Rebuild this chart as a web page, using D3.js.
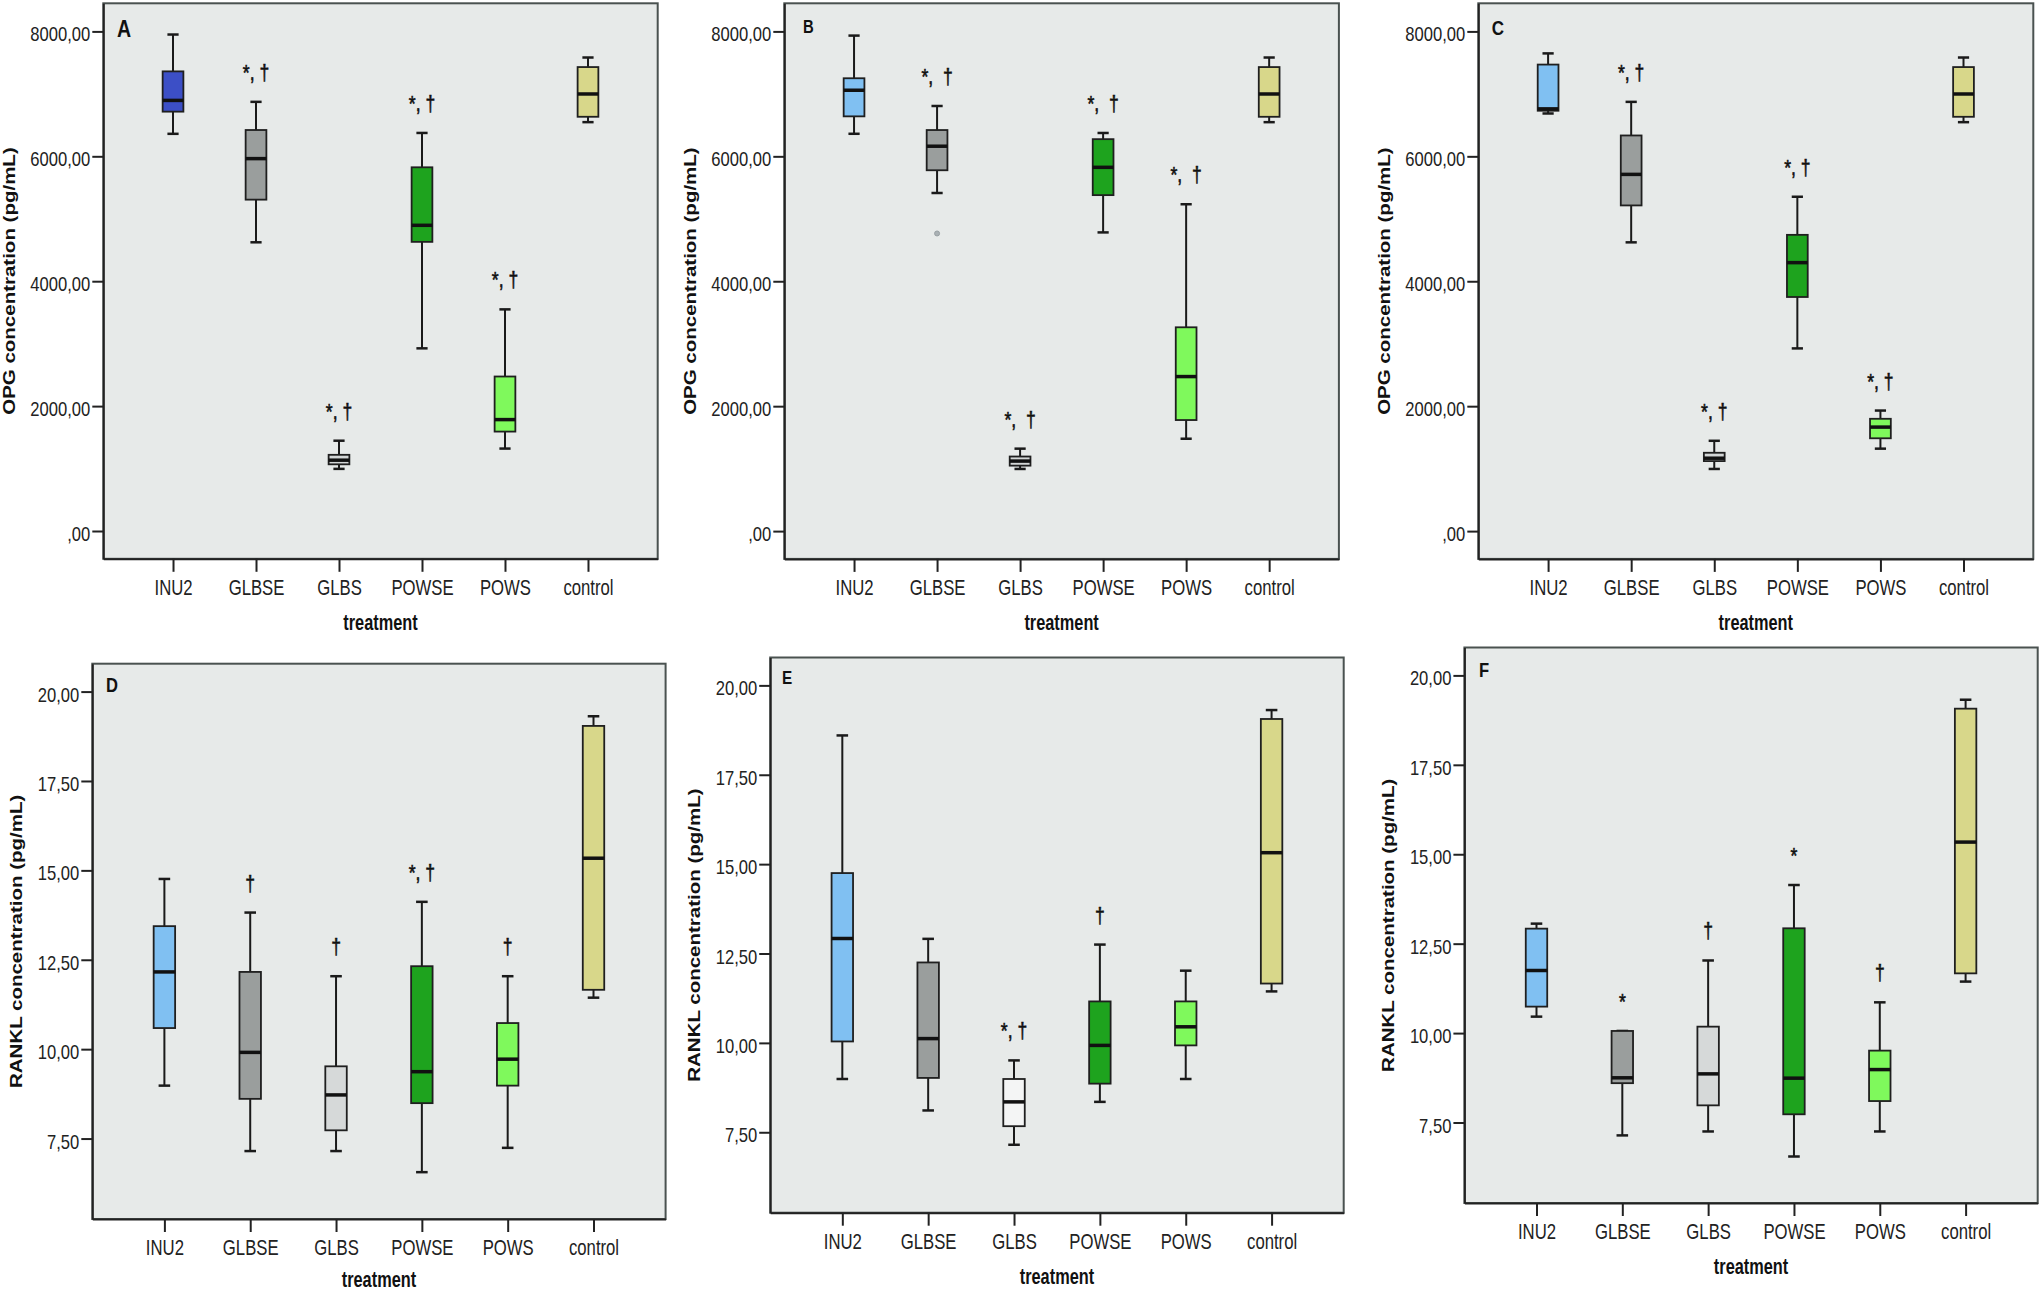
<!DOCTYPE html>
<html>
<head>
<meta charset="utf-8">
<script src="https://cdn.jsdelivr.net/npm/d3@7"></script>
<style>
  body { margin: 0; background: #ffffff; }
  svg { display: block; }
  text { font-family: "Liberation Sans", Arial, Helvetica, sans-serif; -webkit-font-smoothing: antialiased; }
</style>
</head>
<body>
<svg id="chart" width="2042" height="1293"></svg>
<script>
// ---------------- DATA ----------------
const categories = ["INU2", "GLBSE", "GLBS", "POWSE", "POWS", "control"];

const opgTicks = [0, 2000, 4000, 6000, 8000];
const opgTickLabels = [",00", "2000,00", "4000,00", "6000,00", "8000,00"];
const ranklTicks = [7.5, 10, 12.5, 15, 17.5, 20];
const ranklTickLabels = ["7,50", "10,00", "12,50", "15,00", "17,50", "20,00"];

const opgTitle = "OPG concentration (pg/mL)";
const ranklTitle = "RANKL concentration (pg/mL)";
const xTitle = "treatment";

// box statistics per category: [lower whisker, Q1, median, Q3, upper whisker]
const boxesA = [
  [6360, 6715, 6895, 7360, 7950],
  [4623, 5306, 5963, 6421, 6872],
  [995, 1068, 1134, 1220, 1446],
  [2925, 4630, 4895, 5824, 6374],
  [1320, 1592, 1784, 2474, 3549],
  [6547, 6633, 6998, 7429, 7582]
];
const boxesB = [
  [6361, 6640, 7058, 7250, 7933],
  [5413, 5777, 6162, 6421, 6806],
  [995, 1048, 1121, 1194, 1320],
  [4782, 5379, 5824, 6275, 6374],
  [1479, 1778, 2474, 3263, 5233],
  [6547, 6633, 6998, 7429, 7582]
];
const boxesC = [
  [6686, 6730, 6760, 7469, 7648],
  [4623, 5214, 5711, 6334, 6872],
  [995, 1121, 1167, 1254, 1446],
  [2925, 3748, 4298, 4743, 5353],
  [1320, 1486, 1665, 1798, 1930],
  [6547, 6633, 6998, 7429, 7582]
];
const boxesD = [
  [8.98, 10.59, 12.16, 13.44, 14.76],
  [7.15, 8.61, 9.91, 12.16, 13.82],
  [7.15, 7.73, 8.72, 9.52, 12.04],
  [6.56, 8.49, 9.37, 12.32, 14.12],
  [7.24, 8.98, 9.72, 10.73, 12.04],
  [11.44, 11.66, 15.34, 19.04, 19.31]
];
const boxesE = [
  [8.99, 10.04, 12.92, 14.75, 18.60],
  [8.11, 9.02, 10.12, 12.25, 12.91],
  [7.15, 7.67, 8.35, 8.99, 9.51],
  [8.35, 8.86, 9.93, 11.16, 12.75],
  [8.99, 9.93, 10.45, 11.16, 12.02],
  [11.44, 11.66, 15.32, 19.06, 19.31]
];
const boxesF = [
  [10.46, 10.74, 11.75, 12.92, 13.06],
  [7.14, 8.60, 8.75, 10.06, 10.06],
  [7.25, 7.98, 8.86, 10.18, 12.03],
  [6.55, 7.73, 8.74, 12.93, 14.14],
  [7.25, 8.10, 8.98, 9.51, 10.86],
  [11.44, 11.67, 15.34, 19.07, 19.32]
];

const outliersB = [{ cat: "GLBSE", value: 4765 }];

const marksA = ["", "*, \u2020", "*, \u2020", "*, \u2020", "*, \u2020", ""];
const marksB = ["", "*,  \u2020", "*,  \u2020", "*,  \u2020", "*,  \u2020", ""];
const marksC = ["", "*, \u2020", "*, \u2020", "*, \u2020", "*, \u2020", ""];
const marksD = ["", "\u2020", "\u2020", "*, \u2020", "\u2020", ""];
const marksE = ["", "", "*, \u2020", "\u2020", "", ""];
const marksF = ["", "*", "\u2020", "*", "\u2020", ""];

const colorsA = ["#3c4fc6", "#9a9e9d", "#d3d6d6", "#1ea31e", "#7ff95c", "#d8d78a"];
const colorsBC = ["#80c0f2", "#9a9e9d", "#d3d6d6", "#1ea31e", "#7ff95c", "#d8d78a"];
const colorsDF = ["#80c0f2", "#9a9e9d", "#d6d9d9", "#1ea31e", "#7ff95c", "#d8d78a"];
const colorsE = ["#80c0f2", "#9a9e9d", "#f4f5f5", "#1ea31e", "#7ff95c", "#d8d78a"];

// ---------------- LAYOUT ----------------
const opgDomain = [-445, 8450];
const ranklDomain = [5.25, 20.78];

const panels = [
  { letter: "A", boxes: boxesA, marks: marksA, colors: colorsA, outliers: [],
    x0: 103.3, x1: 657.7, y0: 3.3, y1: 558.8, row: 1, ls: 23, ldx: 13.7, ldy: 34 },
  { letter: "B", boxes: boxesB, marks: marksB, colors: colorsBC, outliers: outliersB,
    x0: 784.3, x1: 1338.9, y0: 3.3, y1: 558.9, row: 1, ls: 17.5, ldx: 18.7, ldy: 30 },
  { letter: "C", boxes: boxesC, marks: marksC, colors: colorsBC, outliers: [],
    x0: 1478.3, x1: 2033.3, y0: 3.3, y1: 558.9, row: 1, ls: 20, ldx: 13.5, ldy: 31.5 },
  { letter: "D", boxes: boxesD, marks: marksD, colors: colorsDF, outliers: [],
    x0: 92.3, x1: 665.6, y0: 663.7, y1: 1219, row: 2, ls: 19.5, ldx: 13.7, ldy: 28.3 },
  { letter: "E", boxes: boxesE, marks: marksE, colors: colorsE, outliers: [],
    x0: 770.2, x1: 1343.7, y0: 657.5, y1: 1212.7, row: 2, ls: 18, ldx: 11.8, ldy: 26.5 },
  { letter: "F", boxes: boxesF, marks: marksF, colors: colorsDF, outliers: [],
    x0: 1464.4, x1: 2037.7, y0: 647.5, y1: 1203, row: 2, ls: 19.5, ldx: 14.6, ldy: 29.5 }
];

const FONT = "Liberation Sans, Arial, Helvetica, sans-serif";
const svg = d3.select("#chart");

function drawPanel(p) {
  const isOpg = p.row === 1;
  const g = svg.append("g");
  const x = d3.scalePoint().domain(categories).range([p.x0, p.x1]).padding(0.84);
  const y = d3.scaleLinear().domain(isOpg ? opgDomain : ranklDomain).range([p.y1, p.y0]);
  const step = x.step();
  const bw = step * 0.25;
  const capW = step * 0.135;

  // plot background + frame
  g.append("rect")
    .attr("x", p.x0).attr("y", p.y0)
    .attr("width", p.x1 - p.x0).attr("height", p.y1 - p.y0)
    .attr("fill", "#e7eae9")
    .attr("stroke", "#4a5250").attr("stroke-width", 2);

  // y axis
  const ticks = isOpg ? opgTicks : ranklTicks;
  const tickLabels = isOpg ? opgTickLabels : ranklTickLabels;
  const yAxis = d3.axisLeft(y)
    .tickValues(ticks)
    .tickFormat((d, i) => tickLabels[i])
    .tickSize(11).tickSizeOuter(0).tickPadding(2);
  const yg = g.append("g").attr("transform", `translate(${p.x0},0)`).call(yAxis);
  yg.attr("font-size", 20).attr("font-family", FONT);
  yg.select(".domain").attr("stroke", "#222").attr("stroke-width", 2);
  yg.selectAll(".tick line").attr("stroke", "#222").attr("stroke-width", 2);
  yg.selectAll(".tick text")
    .attr("x", 0).attr("dy", null).attr("y", 9.5)
    .attr("transform", "translate(-13,0) scale(0.83,1)")
    .attr("fill", "#222");

  // x axis
  const xAxis = d3.axisBottom(x).tickSize(13).tickSizeOuter(0).tickPadding(0);
  const xg = g.append("g").attr("transform", `translate(0,${p.y1})`).call(xAxis);
  xg.attr("font-size", 22).attr("font-family", FONT);
  xg.select(".domain").attr("stroke", "#222").attr("stroke-width", 2);
  xg.selectAll(".tick line").attr("stroke", "#222").attr("stroke-width", 2);
  xg.selectAll(".tick text")
    .attr("y", 0).attr("dy", null)
    .attr("transform", "translate(0,36) scale(0.76,1)")
    .attr("fill", "#222");

  // axis titles
  g.append("text")
    .attr("transform", `translate(${p.x0 - (isOpg ? 88 : 70)},${(p.y0 + p.y1) / 2}) scale(0.78,1) rotate(-90)`)
    .attr("text-anchor", "middle")
    .attr("font-size", 20.5).attr("font-weight", "bold").attr("fill", "#111")
    .attr("font-family", FONT)
    .text(isOpg ? opgTitle : ranklTitle);

  const tBase = Math.min(p.y1 + 71, 1287);
  g.append("text")
    .attr("transform", `translate(${(p.x0 + p.x1) / 2},${tBase}) scale(0.76,1)`)
    .attr("text-anchor", "middle")
    .attr("font-size", 21.5).attr("font-weight", "bold").attr("fill", "#111")
    .attr("font-family", FONT)
    .text(xTitle);

  // panel letter
  g.append("text")
    .attr("transform", `translate(${p.x0 + p.ldx},${p.y0 + p.ldy}) scale(0.85,1)`)
    .attr("font-size", p.ls).attr("font-weight", "bold").attr("fill", "#111")
    .attr("font-family", FONT)
    .text(p.letter);

  // boxes
  const bx = g.selectAll("g.box")
    .data(p.boxes.map((b, i) => ({ cat: categories[i], b, color: p.colors[i], mark: p.marks[i] })))
    .join("g").attr("class", "box");

  bx.append("line")
    .attr("x1", d => x(d.cat)).attr("x2", d => x(d.cat))
    .attr("y1", d => y(d.b[0])).attr("y2", d => y(d.b[4]))
    .attr("stroke", "#1a1a1a").attr("stroke-width", 2);

  bx.append("line")
    .attr("x1", d => x(d.cat) - capW / 2).attr("x2", d => x(d.cat) + capW / 2)
    .attr("y1", d => y(d.b[0])).attr("y2", d => y(d.b[0]))
    .attr("stroke", "#1a1a1a").attr("stroke-width", 2.5);
  bx.append("line")
    .attr("x1", d => x(d.cat) - capW / 2).attr("x2", d => x(d.cat) + capW / 2)
    .attr("y1", d => y(d.b[4])).attr("y2", d => y(d.b[4]))
    .attr("stroke", "#1a1a1a").attr("stroke-width", 2.5);

  bx.append("rect")
    .attr("x", d => x(d.cat) - bw / 2).attr("width", bw)
    .attr("y", d => y(d.b[3]))
    .attr("height", d => Math.max(1, y(d.b[1]) - y(d.b[3])))
    .attr("fill", d => d.color)
    .attr("stroke", "#1f1f1f").attr("stroke-width", 1.8);

  bx.append("line")
    .attr("x1", d => x(d.cat) - bw / 2).attr("x2", d => x(d.cat) + bw / 2)
    .attr("y1", d => y(d.b[2])).attr("y2", d => y(d.b[2]))
    .attr("stroke", "#111").attr("stroke-width", 3.5);

  // significance marks
  bx.filter(d => d.mark)
    .append("text")
    .attr("transform", d => `translate(${x(d.cat)},${y(d.b[4]) - 22}) scale(0.8,1)`)
    .attr("text-anchor", "middle")
    .attr("xml:space", "preserve")
    .style("white-space", "pre")
    .attr("font-size", 22).attr("fill", "#111")
    .attr("stroke", "#111").attr("stroke-width", 0.6)
    .attr("font-family", FONT)
    .text(d => d.mark);

  // outliers
  g.selectAll("circle.out")
    .data(p.outliers)
    .join("circle").attr("class", "out")
    .attr("cx", d => x(d.cat)).attr("cy", d => y(d.value))
    .attr("r", 2.5)
    .attr("fill", "#aab1b4").attr("stroke", "#98a0a3").attr("stroke-width", 1);
}

panels.forEach(drawPanel);
</script>
</body>
</html>
